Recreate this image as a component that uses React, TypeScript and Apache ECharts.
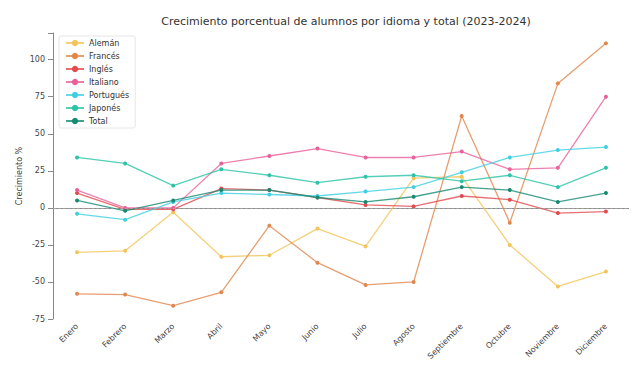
import React, { useEffect, useRef } from "react";
import * as echarts from "echarts";

const months = ["Enero", "Febrero", "Marzo", "Abril", "Mayo", "Junio", "Julio", "Agosto", "Septiembre", "Octubre", "Noviembre", "Diciembre"];
const seriesNames = ["Alemán", "Francés", "Inglés", "Italiano", "Portugués", "Japonés", "Total"];
const aleman = [-30, -29, -3, -33, -32, -14, -26, 20, 21, -25, -53, -43];
const frances = [-58, -58.5, -66, -57, -12, -37, -52, -50, 62, -10, 84, 111];
const ingles = [10, -1, -1, 13, 12, 7, 2, 1, 8, 5.5, -3.5, -2.5];
const italiano = [12, 0, 0, 30, 35, 40, 34, 34, 38, 26, 27, 75];
const portugues = [-4, -8, 4, 10, 9, 8, 11, 14, 24, 34, 39, 41];
const japones = [34, 30, 15, 26, 22, 17, 21, 22, 18, 22, 14, 27];
const total = [5, -2, 5, 12, 12, 7, 4, 7.5, 14, 12, 4, 10];
const yTicks = [-75, -50, -25, 0, 25, 50, 75, 100];

const values = [aleman, frances, ingles, italiano, portugues, japones, total];
const colors = ["#f2c45a", "#e0874e", "#e24a4e", "#e9609a", "#3fcfe0", "#2cc3a6", "#178a72"];

export default function App() {
  const ref = useRef<HTMLDivElement>(null);
  useEffect(() => {
    if (!ref.current) return;
    const chart = echarts.init(ref.current, null, { renderer: "svg" });
    const font = "DejaVu Sans";
    chart.setOption({
      animation: false,
      textStyle: { fontFamily: font },
      title: {
        text: "Crecimiento porcentual de alumnos por idioma y total (2023-2024)",
        left: 341,
        textAlign: "center",
        top: 11,
        textStyle: { fontSize: 11, fontWeight: "normal", color: "#333", fontFamily: font },
      },
      legend: {
        orient: "vertical",
        left: 59,
        top: 36,
        itemGap: 5,
        itemWidth: 18,
        itemHeight: 8,
        padding: [3, 6],
        borderColor: "#e6e6e6",
        borderWidth: 1,
        borderRadius: 2,
        backgroundColor: "rgba(255,255,255,0.8)",
        textStyle: { fontSize: 8, color: "#333", fontFamily: font },
        data: seriesNames,
      },
      grid: { left: 53, right: 7, top: 33, bottom: 46 },
      xAxis: {
        type: "category",
        data: months,
        boundaryGap: true,
        axisLine: { lineStyle: { color: "#888" } },
        axisTick: { alignWithLabel: true, lineStyle: { color: "#888" } },
        axisLabel: { rotate: 45, fontSize: 8, color: "#444", margin: 6, fontFamily: font },
      },
      yAxis: {
        type: "value",
        min: -75,
        max: 118,
        interval: 25,
        name: "Crecimiento %",
        nameLocation: "middle",
        nameGap: 30,
        nameMoveOverlap: false,
        nameTextStyle: { fontSize: 8, color: "#444", fontFamily: font },
        splitLine: { show: false },
        axisLine: { show: true, lineStyle: { color: "#888" } },
        axisTick: { show: true, lineStyle: { color: "#888" } },
        axisLabel: {
          fontSize: 8,
          color: "#444",
          fontFamily: font,
          formatter: (v: number) => (yTicks.includes(v) ? String(v) : ""),
        },
      },
      series: seriesNames.map((name, i) => ({
        name,
        type: "line",
        data: values[i],
        symbol: "circle",
        symbolSize: 4,
        lineStyle: { width: 1.3, color: colors[i], opacity: 0.8 },
        itemStyle: { color: colors[i] },
        markLine:
          i === 0
            ? {
                silent: true,
                symbol: "none",
                label: { show: false },
                lineStyle: { color: "#bbb", type: "dashed", width: 0.8, opacity: 0.6 },
                data: [{ yAxis: 0 }],
              }
            : undefined,
      })),
    });
    return () => chart.dispose();
  }, []);
  return <div ref={ref} style={{ width: 637, height: 365, marginLeft: -8, marginTop: -8 }} />;
}
